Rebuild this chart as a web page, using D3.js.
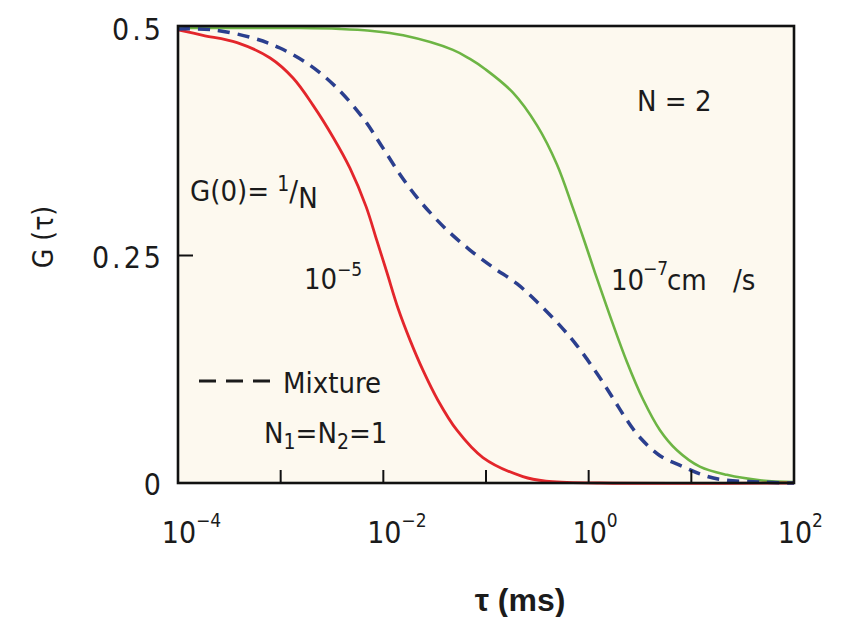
<!DOCTYPE html>
<html>
<head>
<meta charset="utf-8">
<script src="https://cdn.jsdelivr.net/npm/d3@7/dist/d3.min.js"></script>
<style>
body { margin: 0; background: #fff; }
svg text { font-family: "DejaVu Sans Condensed", "DejaVu Sans", sans-serif; fill: #1b1b1b; }
</style>
</head>
<body>
<div id="chart"></div>
<script>
// G(tau) curves, tau in ms
var tauRed = [1e-4, 1.75e-4, 3.76e-4, 7.9e-4, 1.32e-3, 2.07e-3, 3.24e-3, 4.73e-3, 6.78e-3, 8.67e-3,
  1.086e-2, 1.39e-2, 1.82e-2, 2.43e-2, 3.40e-2, 5.21e-2, 9.33e-2, 0.229, 0.384, 1.29, 100];
var gRed = [0.498, 0.492, 0.484, 0.467, 0.445, 0.415, 0.380, 0.346, 0.304, 0.266,
  0.231, 0.192, 0.157, 0.124, 0.091, 0.058, 0.028, 0.007, 0.002, 0, 0];

var tauGreen = [1e-4, 1.54e-3, 3.78e-3, 7.41e-3, 1.56e-2, 4.76e-2, 6.98e-2, 9.77e-2, 0.183, 0.314, 0.491, 0.703,
  0.920, 1.153, 1.61, 2.36, 3.38, 4.95, 7.24, 12.1, 22.2, 46.7, 100];
var gGreen = [0.5, 0.5, 0.499, 0.497, 0.492, 0.476, 0.466, 0.455, 0.429, 0.393, 0.350, 0.302,
  0.264, 0.231, 0.184, 0.133, 0.092, 0.058, 0.036, 0.018, 0.009, 0.003, 0.001];

var tauMix = [1e-4, 2.19e-4, 5.37e-4, 9.84e-4, 1.93e-3, 3.54e-3, 6.34e-3, 9.93e-3, 1.56e-2, 2.43e-2,
  4.17e-2, 6.98e-2, 0.117, 0.200, 0.314, 0.526, 0.769, 1.21, 1.73, 2.36, 3.16, 4.95, 8.30, 12.1, 19.0, 46.7, 100];
var gMix = [0.499, 0.498, 0.489, 0.478, 0.459, 0.434, 0.401, 0.368, 0.334, 0.306,
  0.278, 0.256, 0.237, 0.219, 0.199, 0.173, 0.151, 0.120, 0.093, 0.069, 0.050, 0.030, 0.018, 0.010, 0.004, 0.001, 0];

var xTicks = [1e-4, 1e-3, 1e-2, 1e-1, 1e0, 1e1, 1e2];
var xLabelExps = [-4, -2, 0, 2];
var yLabels = [[0, "0"], [0.25, "0.25"], [0.5, "0.5"]];

var W = 842, H = 617;
var m = {left: 178, top: 26, right: 48, bottom: 134};
var w = W - m.left - m.right, h = H - m.top - m.bottom;

var svg = d3.select("#chart").append("svg")
  .attr("width", W)
  .attr("height", H);

var g = svg.append("g")
  .attr("transform", "translate(" + m.left + "," + m.top + ")");

var x = d3.scaleLog().domain([1e-4, 1e2]).range([0, w]);
var y = d3.scaleLinear().domain([0, 0.5]).range([h, 2]);

g.append("rect")
  .attr("width", w)
  .attr("height", h)
  .style("fill", "#fdf9ef");

var line = d3.line()
  .x(function(d) { return x(d[0]); })
  .y(function(d) { return y(d[1]); })
  .curve(d3.curveCatmullRom.alpha(0.5));

g.append("path")
  .datum(d3.zip(tauGreen, gGreen))
  .attr("d", line)
  .style("fill", "none")
  .style("stroke", "#6db544")
  .style("stroke-width", 2.6);

g.append("path")
  .datum(d3.zip(tauRed, gRed))
  .attr("d", line)
  .style("fill", "none")
  .style("stroke", "#e3262b")
  .style("stroke-width", 2.8);

g.append("path")
  .datum(d3.zip(tauMix, gMix))
  .attr("d", line)
  .style("fill", "none")
  .style("stroke", "#2b3f8e")
  .style("stroke-width", 3.5)
  .style("stroke-dasharray", "12,8");

// inner ticks
g.selectAll(".xt")
  .data(xTicks.slice(1, -1))
.enter().append("line")
  .attr("class", "xt")
  .attr("x1", x).attr("x2", x)
  .attr("y1", h).attr("y2", h - 13)
  .style("stroke", "#111")
  .style("stroke-width", 2);

g.append("line")
  .attr("x1", 0).attr("x2", 15)
  .attr("y1", y(0.25)).attr("y2", y(0.25))
  .style("stroke", "#111")
  .style("stroke-width", 2);

// frame
g.append("rect")
  .attr("width", w)
  .attr("height", h)
  .style("fill", "none")
  .style("stroke", "#111")
  .style("stroke-width", 2.6);

// x tick labels: "10" centred on the tick, exponent hanging to the right
var xl = g.selectAll(".xl")
  .data(xLabelExps)
.enter().append("g")
  .attr("class", "xl")
  .attr("transform", function(d) { return "translate(" + x(Math.pow(10, d)) + "," + (h + 60) + ")"; });

xl.append("text")
  .attr("text-anchor", "middle")
  .attr("x", 1)
  .style("font-size", "30px")
  .text("10");

xl.append("text")
  .attr("x", 18)
  .attr("y", -16)
  .style("font-size", "19px")
  .text(function(d) { return d < 0 ? "\u2212" + (-d) : String(d); });

g.selectAll(".yl")
  .data(yLabels)
.enter().append("text")
  .attr("class", "yl")
  .attr("x", -14)
  .attr("y", function(d) { return y(d[0]) + 12; })
  .attr("text-anchor", "end")
  .style("font-size", "30px")
  .style("letter-spacing", "3px")
  .text(function(d) { return d[1]; });

// axis titles
svg.append("text")
  .attr("transform", "translate(53,237) rotate(-90)")
  .attr("text-anchor", "middle")
  .style("font-size", "28px")
  .text("G (\u03c4)");

svg.append("text")
  .attr("x", 520)
  .attr("y", 611)
  .attr("text-anchor", "middle")
  .style("font-family", "'Liberation Sans', Arial, sans-serif")
  .style("font-weight", "bold")
  .style("font-size", "32px")
  .text("\u03c4 (ms)");

// annotations
var ann = svg.append("g").style("font-size", "29px");

ann.append("text").attr("x", 637).attr("y", 111).text("N = 2");

var g0 = ann.append("text").attr("x", 190).attr("y", 201);
g0.append("tspan").text("G(0)= ");
g0.append("tspan").attr("dy", -10).style("font-size", "21px").text("1");
g0.append("tspan").attr("dy", 10).text("/");
g0.append("tspan").attr("dy", 7).text("N");

ann.append("text").attr("x", 304).attr("y", 289).text("10");
ann.append("text").attr("x", 337).attr("y", 276).style("font-size", "19px").text("\u22125");

ann.append("text").attr("x", 611).attr("y", 290).text("10");
ann.append("text").attr("x", 643).attr("y", 275).style("font-size", "19px").text("\u22127");
ann.append("text").attr("x", 667).attr("y", 290).text("cm");
ann.append("text").attr("x", 733).attr("y", 290).text("/s");

ann.append("line")
  .attr("x1", 199).attr("x2", 278)
  .attr("y1", 381).attr("y2", 381)
  .style("stroke", "#1b1b1b")
  .style("stroke-width", 3)
  .style("stroke-dasharray", "17,10");
ann.append("text").attr("x", 283).attr("y", 393).text("Mixture");

var nn = ann.append("text").attr("x", 264).attr("y", 443);
nn.append("tspan").text("N");
nn.append("tspan").attr("dy", 6).style("font-size", "21px").text("1");
nn.append("tspan").attr("dy", -6).text("=N");
nn.append("tspan").attr("dy", 6).style("font-size", "21px").text("2");
nn.append("tspan").attr("dy", -6).text("=1");
</script>
</body>
</html>
